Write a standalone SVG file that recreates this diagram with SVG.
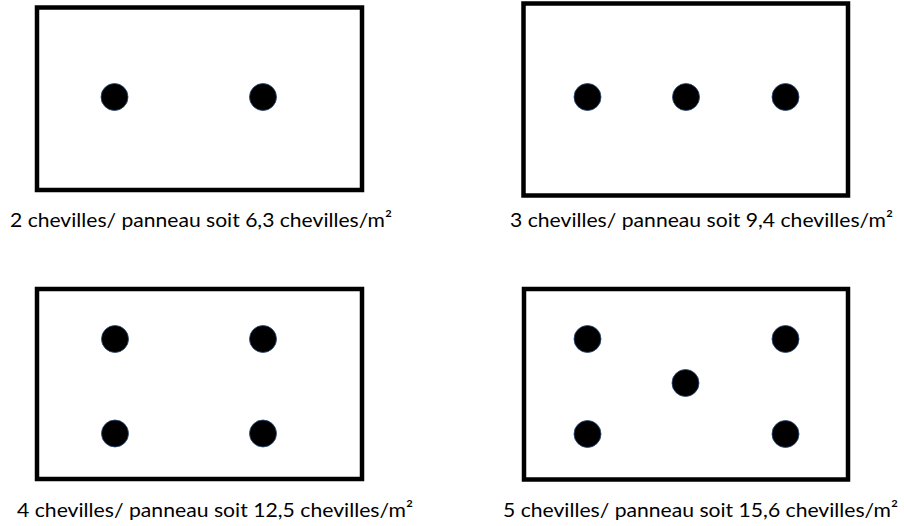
<svg xmlns="http://www.w3.org/2000/svg" width="904" height="526" viewBox="0 0 904 526">
<style>
.panel{fill:#fff;stroke:#000;stroke-width:4.5}
.dot{fill:#000;stroke:#2a4a7a;stroke-width:0.8}
.lbl{font-family:Lato,"Open Sans","Liberation Sans",sans-serif;font-size:20px;fill:#000}
</style>
<rect width="904" height="526" fill="#fff"/>
<g id="panel1">
<rect class="panel" x="37" y="7.5" width="325" height="182.5"/>
<circle class="dot" cx="114.5" cy="97" r="13.5"/>
<circle class="dot" cx="263" cy="97" r="13.5"/>
<text class="lbl" x="10" y="226.5" textLength="382" lengthAdjust="spacingAndGlyphs">2 chevilles/ panneau soit 6,3 chevilles/m²</text>
</g>
<g id="panel2">
<rect class="panel" x="523.5" y="3.5" width="324.5" height="192"/>
<circle class="dot" cx="587.5" cy="97" r="13.5"/>
<circle class="dot" cx="686" cy="97" r="13.5"/>
<circle class="dot" cx="785.5" cy="97" r="13.5"/>
<text class="lbl" x="510" y="226.5" textLength="383" lengthAdjust="spacingAndGlyphs">3 chevilles/ panneau soit 9,4 chevilles/m²</text>
</g>
<g id="panel3">
<rect class="panel" x="37" y="289" width="325" height="190"/>
<circle class="dot" cx="115" cy="339" r="13.5"/>
<circle class="dot" cx="263" cy="339" r="13.5"/>
<circle class="dot" cx="115" cy="433.5" r="13.5"/>
<circle class="dot" cx="263" cy="433.5" r="13.5"/>
<text class="lbl" x="17" y="516.5" textLength="396" lengthAdjust="spacingAndGlyphs">4 chevilles/ panneau soit 12,5 chevilles/m²</text>
</g>
<g id="panel4">
<rect class="panel" x="524" y="289" width="324" height="190.5"/>
<circle class="dot" cx="587.5" cy="339" r="13.5"/>
<circle class="dot" cx="785.5" cy="339" r="13.5"/>
<circle class="dot" cx="685.5" cy="383" r="13.5"/>
<circle class="dot" cx="587.5" cy="434" r="13.5"/>
<circle class="dot" cx="785.5" cy="434" r="13.5"/>
<text class="lbl" x="503" y="516.5" textLength="395" lengthAdjust="spacingAndGlyphs">5 chevilles/ panneau soit 15,6 chevilles/m²</text>
</g>
<g id="connectors"></g>
</svg>
